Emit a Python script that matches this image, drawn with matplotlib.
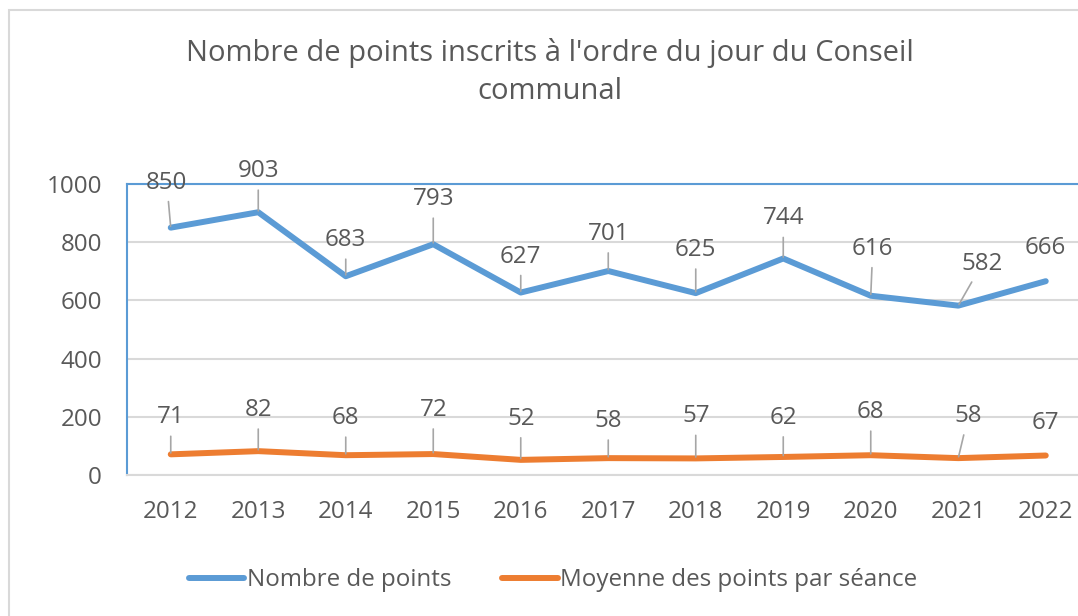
import matplotlib.pyplot as plt
from matplotlib.patches import Rectangle

plt.rcParams['font.family'] = ['Open Sans', 'DejaVu Sans']

# donnees
annees = ['2012', '2013', '2014', '2015', '2016', '2017', '2018', '2019', '2020', '2021', '2022']
nb_points = [850, 903, 683, 793, 627, 701, 625, 744, 616, 582, 666]
moyenne_seance = [71, 82, 68, 72, 52, 58, 57, 62, 68, 58, 67]

# decalage des etiquettes (pixels)
off_points = [(-4, 45), (0, 41), (0, 36), (0, 45), (0, 36), (0, 37), (0, 43), (0, 40), (2, 47), (24, 42), (-1, 33)]
off_moy = [(0, 37), (0, 41), (0, 37), (0, 44), (0, 41), (0, 37), (0, 42), (0, 39), (0, 43), (10, 42), (0, 33)]

bleu = '#5B9BD5'
orange = '#ED7D31'
gris_txt = '#595959'
taille = 17.4

W, H = 1078, 616
fig = plt.figure(figsize=(W / 100, H / 100), dpi=100)

# cadre du graphique
fig.patches.append(Rectangle((9 / W, -0.1), 1.2, 1 - 10 / H + 0.1, transform=fig.transFigure,
                             fill=False, edgecolor='#D9D9D9', linewidth=1.5))

ax = fig.add_axes([127 / W, 141 / H, 962.5 / W, 291 / H])
x = list(range(len(annees)))
ax.plot(x, nb_points, color=bleu, linewidth=4.3, solid_capstyle='round', solid_joinstyle='round',
        label='Nombre de points', zorder=3)
ax.plot(x, moyenne_seance, color=orange, linewidth=4.3, solid_capstyle='round', solid_joinstyle='round',
        label='Moyenne des points par séance', zorder=3)

for serie, offs in [(nb_points, off_points), (moyenne_seance, off_moy)]:
    for i, v in enumerate(serie):
        dx, dy = offs[i]
        props = None
        if dy >= 36:
            props = dict(arrowstyle='-', color='#A6A6A6', linewidth=1.2, shrinkA=3, shrinkB=1)
        ax.annotate(str(v), xy=(i, v), xytext=(dx, dy), textcoords='offset pixels',
                    ha='center', va='center', fontsize=taille, color=gris_txt,
                    arrowprops=props, zorder=4)

ax.set_xlim(-0.5, len(annees) - 0.5)
ax.set_ylim(0, 1000)
ax.set_yticks([0, 200, 400, 600, 800, 1000])
ax.set_xticks(x)
ax.set_xticklabels(annees)
ax.tick_params(axis='both', length=0, labelsize=taille, labelcolor=gris_txt)
ax.tick_params(axis='y', pad=18)
ax.tick_params(axis='x', pad=18)
ax.grid(axis='y', color='#D9D9D9', linewidth=1.5)
ax.set_axisbelow(True)

for s in ['top', 'left']:
    ax.spines[s].set_color(bleu)
    ax.spines[s].set_linewidth(1.5)
ax.spines['right'].set_visible(False)
ax.spines['bottom'].set_color('#D9D9D9')
ax.spines['bottom'].set_linewidth(1.5)

fig.text(550 / W, 1 - 72 / H, "Nombre de points inscrits à l'ordre du jour du Conseil\ncommunal",
         ha='center', va='center', fontsize=21, color=gris_txt, linespacing=1.37)

fig.legend(loc='center', bbox_to_anchor=(553 / W, 36 / H), ncol=2, frameon=False,
           fontsize=taille, labelcolor=gris_txt, handlelength=2.3, handletextpad=0.1,
           columnspacing=2.1)

fig.savefig('out.png', dpi=100)
